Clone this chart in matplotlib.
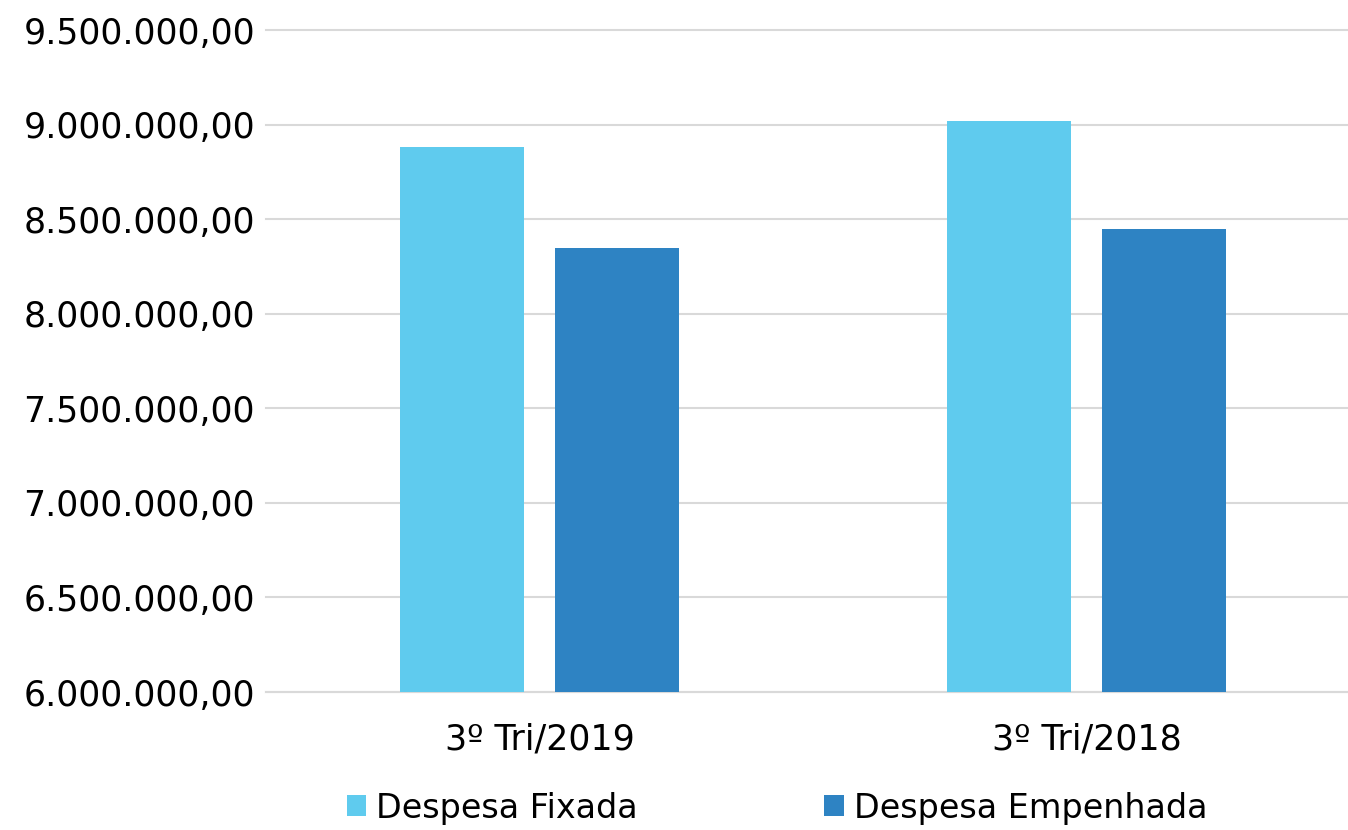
import matplotlib
matplotlib.use("Agg")
import matplotlib.pyplot as plt
import matplotlib.ticker as mticker
import numpy as np

categories = ["3º Tri/2019", "3º Tri/2018"]
series_names = ["Despesa Fixada", "Despesa Empenhada"]
despesa_fixada = [8880000, 9020000]
despesa_empenhada = [8345000, 8450000]
y_ticks = [6000000, 6500000, 7000000, 7500000, 8000000, 8500000, 9000000, 9500000]

colors = ["#5FCBEE", "#2E83C3"]


def br_fmt(v, pos=None):
    s = f"{v:,.2f}"
    return s.replace(",", "X").replace(".", ",").replace("X", ".")


plt.rcParams['font.family'] = ['DejaVu Sans']

fig = plt.figure(figsize=(13.48, 8.30), dpi=100)
ax = fig.add_axes([266 / 1348, 1 - 692 / 830, (1348 - 266) / 1348, (692 - 30) / 830])

x = np.arange(len(categories))
w = 0.227
off = 0.142
ax.bar(x - off, despesa_fixada, w, color=colors[0], label=series_names[0], zorder=3)
ax.bar(x + off, despesa_empenhada, w, color=colors[1], label=series_names[1], zorder=3)

ax.set_xlim(-0.5, 1.478)
ax.set_ylim(6000000, 9500000)
ax.set_yticks(y_ticks)
ax.yaxis.set_major_formatter(mticker.FuncFormatter(br_fmt))
ax.set_xticks(x)
ax.set_xticklabels(categories)

ax.grid(axis='y', color='#D9D9D9', linewidth=1.5, zorder=0)
for s in ['top', 'right', 'left']:
    ax.spines[s].set_visible(False)
ax.spines['bottom'].set_color('#D9D9D9')
ax.spines['bottom'].set_linewidth(1.5)
for gl in ax.get_ygridlines():
    gl.set_clip_on(False)

ax.tick_params(axis='both', length=0, labelsize=25, colors='black')
ax.tick_params(axis='y', pad=8)
ax.tick_params(axis='x', pad=22)

leg = fig.legend(loc='center', bbox_to_anchor=(777 / 1348, 1 - 808 / 830),
                 ncol=2, frameon=False, fontsize=24,
                 handlelength=0.58, handleheight=0.58, handletextpad=0.3,
                 columnspacing=5.6, borderaxespad=0)

fig.savefig("out.png", dpi=100)
